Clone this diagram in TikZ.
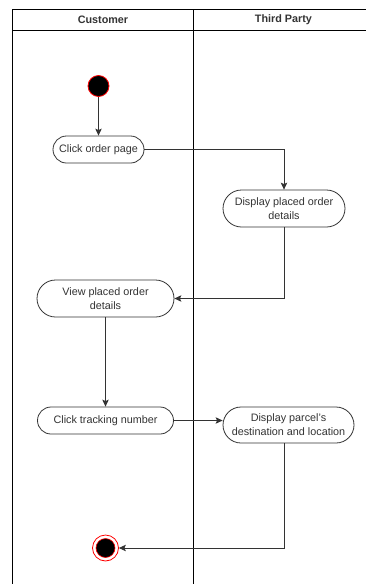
\documentclass[tikz,border=0pt]{standalone}
\usepackage{fontspec}
\setmainfont{Liberation Sans}
\usetikzlibrary{arrows.meta}
\definecolor{ink}{HTML}{333333}
\definecolor{startred}{HTML}{FF0000}
\begin{document}
\begin{tikzpicture}[x=1pt,y=-1pt,
  lane/.style={draw=black,line width=0.9pt},
  action/.style={draw=ink,line width=0.8pt,fill=white,text=ink,align=center,
    font=\fontsize{10.8}{14}\selectfont,inner sep=0pt},
  flow/.style={draw=ink,line width=0.8pt,-{Stealth[length=7pt,width=6.5pt,inset=1.5pt]}},
  head/.style={font=\bfseries\fontsize{10.8}{13}\selectfont,text=ink}]
\useasboundingbox (0,0) rectangle (366,584);
% swimlane frame, clipped at the page edge
\begin{scope}
\clip (0,0) rectangle (366,584);
\draw[lane] (12.5,600) -- (12.5,9) -- (380,9);
\draw[lane] (12.5,30) -- (380,30);
\draw[lane] (193,9) -- (193,600);
\draw[lane] (373.5,9) -- (373.5,600);
\end{scope}
\node[head] (hc) at (103,19.5) {Customer};
\node[head] (ht) at (283.5,19.5) {Third Party};
% initial node
\node[circle,fill=black,draw=startred,line width=0.8pt,minimum size=21pt,inner sep=0pt] (start) at (98.5,86) {};
% actions
\node[action,minimum width=91pt,minimum height=27pt,rounded corners=13.5pt] (n1) at (98.5,149.5) {Click order page};
\node[action,minimum width=122pt,minimum height=37pt,rounded corners=18.5pt] (n2) at (284,208.5) {Display placed order\\details};
\node[action,minimum width=137pt,minimum height=37pt,rounded corners=18.5pt] (n3) at (105.5,298.5) {View placed order\\details};
\node[action,minimum width=136pt,minimum height=27pt,rounded corners=13.5pt] (n4) at (105.5,420.5) {Click tracking number};
\node[action,minimum width=131pt,minimum height=36pt,rounded corners=18pt] (n5) at (288.5,425) {Display parcel's\\destination and location};
% final node
\node[circle,draw=startred,line width=0.8pt,minimum size=26pt,inner sep=0pt,fill=white] (end) at (105.5,548) {};
\node[circle,fill=black,draw=startred,line width=0.6pt,minimum size=19pt,inner sep=0pt] (endin) at (end.center) {};
% control flows
\draw[flow] (start) -- (n1);
\draw[flow] (n1.east) -| (n2.north);
\draw[flow] (n2.south) |- (n3.east);
\draw[flow] (n3) -- (n4);
\draw[flow] (n4.east) -- (n4.east -| n5.west);
\draw[flow] ([xshift=-4.5pt]n5.south) |- (end.east);
\end{tikzpicture}
\end{document}
